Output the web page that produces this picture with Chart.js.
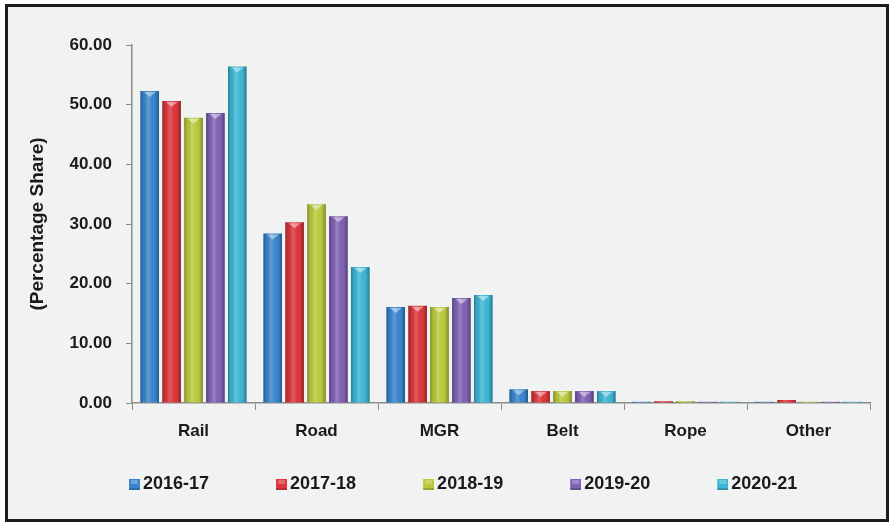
<!DOCTYPE html>
<html>
<head>
<meta charset="utf-8">
<script src="https://cdn.jsdelivr.net/npm/chart.js@4.4.1/dist/chart.umd.min.js"></script>
<style>
  html, body { margin:0; padding:0; background:#ffffff; width:891px; height:524px; overflow:hidden; }
  #frame { position:absolute; left:5px; top:4px; width:884px; height:518px; box-sizing:border-box;
           border:3px solid #1c1c1c; background:#f1f3f3; }
  #c { position:absolute; left:0; top:0; }
</style>
</head>
<body>
<div id="frame"></div>
<canvas id="c" width="891" height="524"></canvas>
<script>
// ---- data ----
const categories = ['Rail', 'Road', 'MGR', 'Belt', 'Rope', 'Other'];
const seriesNames = ['2016-17', '2017-18', '2018-19', '2019-20', '2020-21'];
const values2016_17 = [52.3, 28.4, 16.1, 2.3, 0.2, 0.2];
const values2017_18 = [50.6, 30.3, 16.3, 2.0, 0.3, 0.5];
const values2018_19 = [47.8, 33.3, 16.1, 2.0, 0.3, 0.2];
const values2019_20 = [48.6, 31.3, 17.6, 2.0, 0.2, 0.2];
const values2020_21 = [56.4, 22.8, 18.1, 2.0, 0.2, 0.2];
const yTickValues = [0, 10, 20, 30, 40, 50, 60];
const axisTitle = '(Percentage Share)';

// ---- styles ----
const seriesColors = ['#3784cc', '#dc343a', '#b9c93a', '#7f60b3', '#3bb5d4'];
const FONT = "'Liberation Sans', Arial, sans-serif";
const TEXT = '#1a1a1a';

const seriesValues = [values2016_17, values2017_18, values2018_19, values2019_20, values2020_21];

// legend marker images: blank spacer on the left, small square on the right
const MARK_W = 62;
function makeMarker(color) {
  const cv = document.createElement('canvas');
  cv.width = MARK_W + 12; cv.height = 11;
  const g = cv.getContext('2d');
  const x0 = cv.width - 11;
  g.fillStyle = color;
  g.fillRect(x0, 0, 11, 11);
  g.fillStyle = 'rgba(255,255,255,0.25)';
  g.fillRect(x0 + 2, 1, 7, 4);
  g.fillStyle = 'rgba(0,0,0,0.18)';
  g.fillRect(x0, 9, 11, 2);
  return cv;
}
const markers = seriesColors.map(makeMarker);

const barShading = {
  id: 'barShading',
  afterDatasetsDraw(chart) {
    const ctx = chart.ctx;
    chart.data.datasets.forEach((ds, di) => {
      const meta = chart.getDatasetMeta(di);
      meta.data.forEach(bar => {
        const w = bar.width, l = bar.x - w / 2, top = bar.y, h = bar.base - bar.y;
        if (h <= 0) return;
        ctx.save();
        const g = ctx.createLinearGradient(l, 0, l + w, 0);
        g.addColorStop(0, 'rgba(0,0,0,0.32)');
        g.addColorStop(0.15, 'rgba(0,0,0,0.06)');
        g.addColorStop(0.4, 'rgba(255,255,255,0.20)');
        g.addColorStop(0.65, 'rgba(255,255,255,0.0)');
        g.addColorStop(0.88, 'rgba(0,0,0,0.14)');
        g.addColorStop(1, 'rgba(0,0,0,0.35)');
        ctx.fillStyle = g;
        ctx.fillRect(l, top, w, h);
        if (h > 6) {
          ctx.fillStyle = 'rgba(255,255,255,0.45)';
          ctx.beginPath();
          ctx.moveTo(bar.x - w * 0.32, top + 1);
          ctx.lineTo(bar.x + w * 0.32, top + 1);
          ctx.lineTo(bar.x, top + 6);
          ctx.closePath();
          ctx.fill();
        }
        ctx.restore();
      });
    });
  }
};

new Chart(document.getElementById('c'), {
  type: 'bar',
  data: {
    labels: categories,
    datasets: seriesNames.map((name, i) => ({
      label: name,
      data: seriesValues[i],
      backgroundColor: seriesColors[i],
      borderWidth: 0,
      categoryPercentage: 0.89,
      barPercentage: 0.85
    }))
  },
  options: {
    responsive: false,
    devicePixelRatio: 1,
    animation: false,
    layout: { padding: { left: 62, right: 21, top: 45, bottom: 20.5 } },
    plugins: {
      tooltip: { enabled: false },
      legend: {
        position: 'bottom',
        align: 'start',
        labels: {
          usePointStyle: true,
          pointStyleWidth: MARK_W,
          boxHeight: 11,
          padding: 10,
          color: TEXT,
          font: { family: FONT, size: 18, weight: 'bold' },
          generateLabels(chart) {
            const items = Chart.defaults.plugins.legend.labels.generateLabels(chart);
            items.forEach((it, i) => { it.pointStyle = markers[i]; });
            return items;
          }
        }
      }
    },
    scales: {
      x: {
        afterFit(scale) { scale.height = 62.5; },
        grid: { display: true, drawOnChartArea: false, tickLength: 7, color: '#8c8c8c', offset: true },
        border: { display: true, color: '#8c8c8c', width: 1.5 },
        ticks: { color: TEXT, padding: 11, font: { family: FONT, size: 17, weight: 'bold' } }
      },
      y: {
        min: 0, max: 60,
        afterFit(scale) { scale.width = 70; },
        afterBuildTicks(scale) { scale.ticks = yTickValues.map(v => ({ value: v })); },
        grid: { display: true, drawOnChartArea: false, tickLength: 6, color: '#8c8c8c' },
        border: { display: true, color: '#8c8c8c', width: 1.5 },
        ticks: {
          color: TEXT, padding: 14,
          font: { family: FONT, size: 17, weight: 'bold' },
          callback: v => Number(v).toFixed(2)
        },
        title: {
          display: true, text: axisTitle, color: TEXT,
          font: { family: FONT, size: 19, weight: 'bold' },
          padding: { top: -36, bottom: 0 }
        }
      }
    }
  },
  plugins: [barShading]
});
</script>
</body>
</html>
